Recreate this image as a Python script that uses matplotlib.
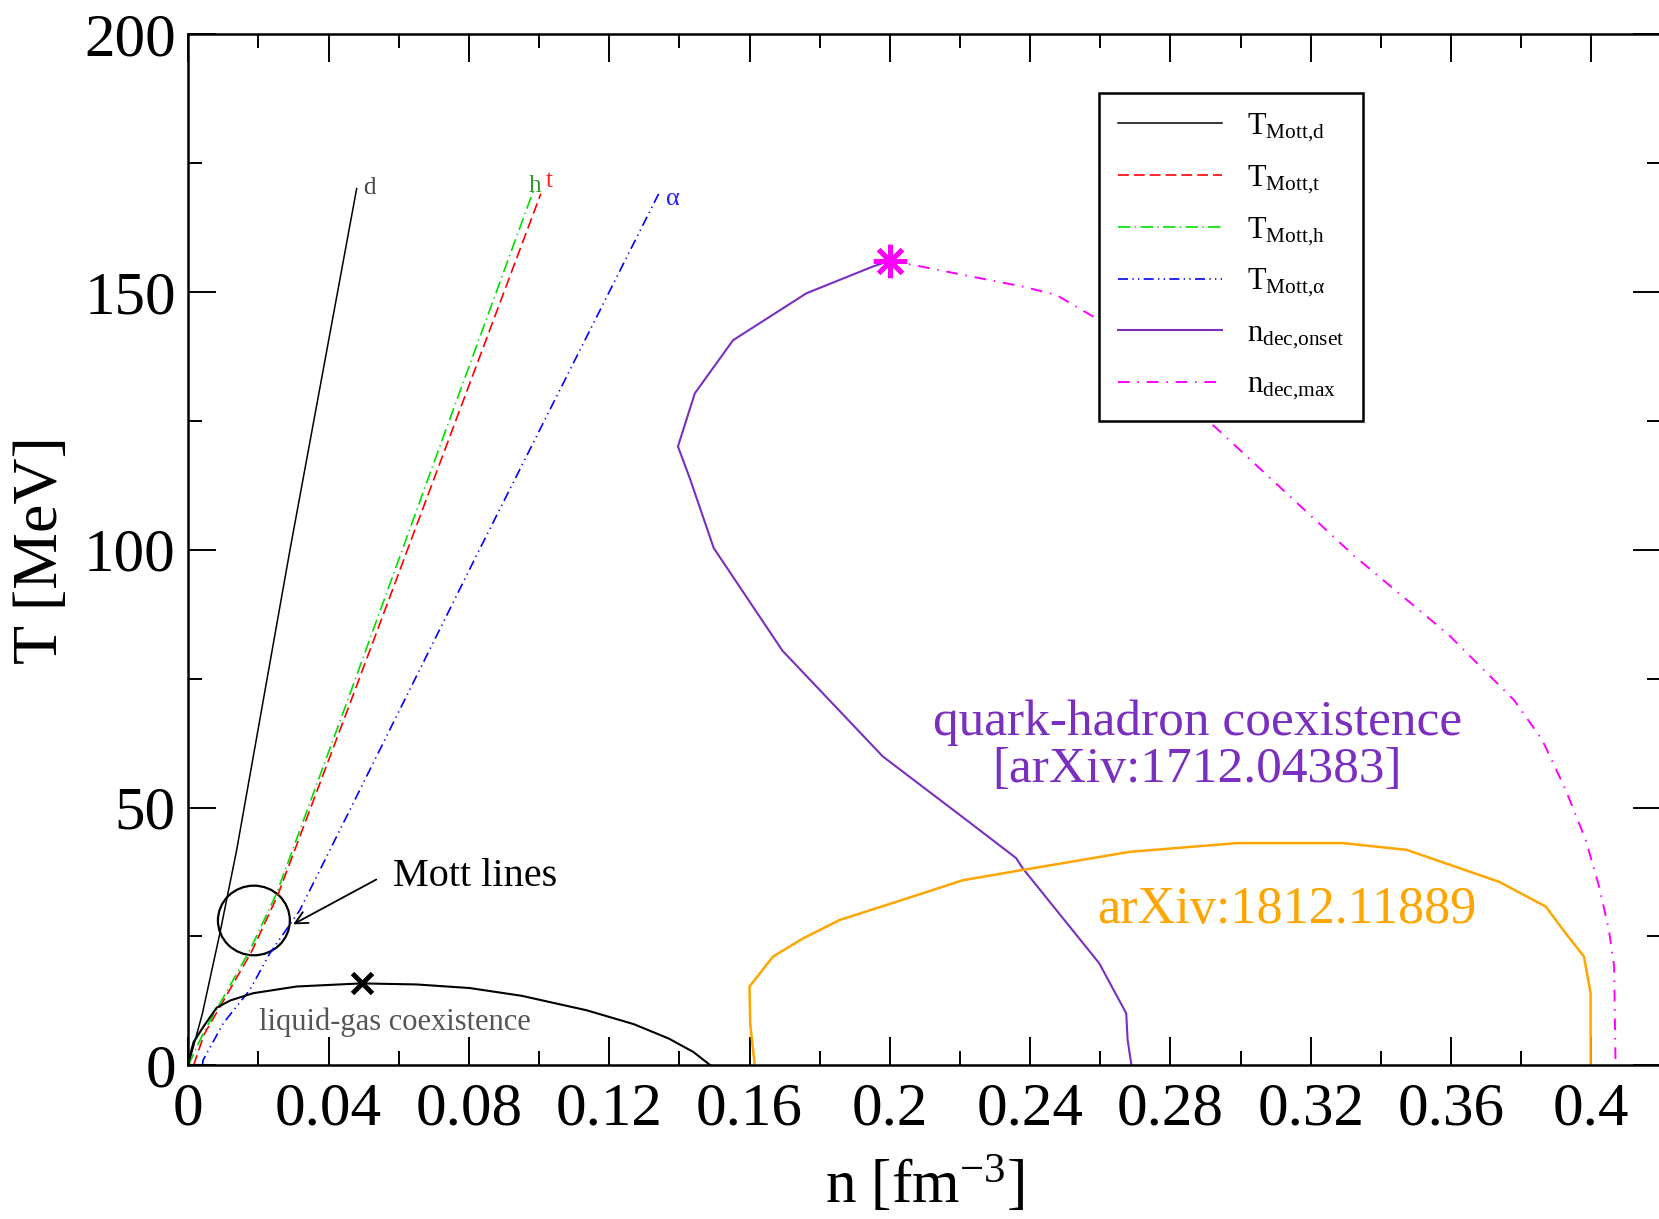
import numpy as np
import matplotlib
matplotlib.use("Agg")
import matplotlib.pyplot as plt
from matplotlib.patches import Ellipse

plt.rcParams['font.family'] = ['Liberation Serif', 'DejaVu Serif']
plt.rcParams['mathtext.fontset'] = 'custom'
plt.rcParams['mathtext.rm'] = 'Liberation Serif'
plt.rcParams['mathtext.it'] = 'Liberation Serif:italic'

# Mott lines (n in fm^-3, T in MeV)
n_d = [0.0, 0.004, 0.009, 0.0138, 0.029, 0.048]
T_d = [0.0, 10.0, 25.6, 41.8, 100.0, 170.0]

n_t = [0.0015, 0.0045, 0.018, 0.0255, 0.046, 0.0735, 0.1005]
T_t = [0.0, 6.0, 22.0, 33.0, 70.0, 120.0, 169.0]

n_h = [0.0, 0.0043, 0.0176, 0.0252, 0.045, 0.0717, 0.0986]
T_h = [0.0, 6.3, 22.4, 33.4, 70.0, 120.0, 170.0]

n_a = [0.004, 0.0042, 0.010, 0.0175, 0.0233, 0.0318, 0.0404, 0.083, 0.1341]
T_a = [0.0, 1.0, 8.2, 14.6, 21.8, 30.1, 41.8, 100.0, 169.0]

# quark-hadron coexistence
n_onset = [0.2, 0.1952, 0.1762, 0.1553, 0.1444, 0.1396, 0.143, 0.1498, 0.1694,
           0.198, 0.2218, 0.236, 0.2379, 0.2597, 0.2674, 0.2678, 0.2689]
T_onset = [156.0, 154.9, 149.7, 140.6, 130.3, 120.0, 113.8, 100.3, 80.4,
           59.9, 47.6, 40.2, 38.2, 19.8, 10.1, 4.9, 0.0]

n_max = [0.2, 0.2066, 0.2237, 0.2379, 0.2474, 0.2597, 0.29, 0.3322, 0.3593,
         0.378, 0.386, 0.3927, 0.3984, 0.4022, 0.405, 0.4065, 0.4069]
T_max = [156.0, 155.2, 152.9, 151.0, 149.4, 144.5, 125.5, 98.9, 83.5,
         70.8, 63.1, 53.4, 43.7, 34.7, 26.3, 19.2, 0.0]

# liquid-gas coexistence
n_lg = [0.0, 0.0005, 0.0015, 0.0043, 0.0081, 0.012, 0.0185, 0.0309, 0.0494,
        0.065, 0.0802, 0.095, 0.1135, 0.127, 0.137, 0.144, 0.1489]
T_lg = [0.0, 2.0, 4.5, 7.5, 11.2, 12.6, 14.0, 15.3, 15.9,
        15.7, 15.0, 13.5, 10.7, 8.0, 5.2, 2.6, 0.0]

# arXiv:1812.11889
n_or = [0.1615, 0.1602, 0.16, 0.1667, 0.1752, 0.1857, 0.2018, 0.2208, 0.2379,
        0.2683, 0.299, 0.3292, 0.3473, 0.3737, 0.387, 0.3927, 0.3979, 0.3998, 0.3998]
T_or = [0.0, 8.0, 15.3, 21.1, 24.6, 28.2, 31.7, 35.9, 37.9,
        41.4, 43.1, 43.1, 41.8, 35.6, 30.8, 25.6, 21.1, 14.0, 0.0]

crit_lg = (0.0494, 15.9)
crit_qh = (0.2, 156.0)

fig = plt.figure(figsize=(16.59, 12.19), dpi=100)
ax = fig.add_axes([0.1135, 0.126, 0.888, 0.8462])

ax.plot(n_d, T_d, color='black', lw=1.1, label=r'T$_{\mathrm{Mott{,}d}}$')
ax.plot(n_t, T_t, color='#ff0000', lw=1.2, linestyle=(0, (6.5, 3.0)),
        label=r'T$_{\mathrm{Mott{,}t}}$')
ax.plot(n_h, T_h, color='#00e000', lw=1.2, linestyle=(0, (7.5, 2.6, 0.8, 2.6)),
        label=r'T$_{\mathrm{Mott{,}h}}$')
ax.plot(n_a, T_a, color='#0000ff', lw=1.2,
        linestyle=(0, (6.0, 2.6, 0.8, 2.6, 0.8, 2.6)),
        label=r'T$_{\mathrm{Mott{,}\alpha}}$')
ax.plot(n_onset, T_onset, color='#7b2fc0', lw=1.5, label=r'n$_{\mathrm{dec{,}onset}}$')
ax.plot(n_max, T_max, color='#ff00ff', lw=1.4, linestyle=(0, (6.0, 4.0, 0.8, 4.0)),
        label=r'n$_{\mathrm{dec{,}max}}$')

ax.plot(n_lg, T_lg, color='black', lw=1.5)
ax.plot(n_or, T_or, color='#ffa500', lw=1.8)

ax.plot(*crit_lg, marker='x', color='black', markersize=15, mew=3.5)
ax.plot(*crit_qh, marker=(8, 2, 0), color='#ff00ff', markersize=24, mew=3.5)

ax.add_patch(Ellipse((0.0187, 28.1), 0.0205, 13.5, fill=False, color='black', lw=1.6))
ax.annotate('', xy=(0.0292, 27.1), xytext=(0.0543, 36.3),
            arrowprops=dict(arrowstyle='->', color='black', lw=1.3, mutation_scale=22))

ax.text(0.0585, 36.7, 'Mott lines', fontsize=29, va='center', ha='left')
ax.text(0.0588, 8.4, 'liquid-gas coexistence', fontsize=22, color='#555555',
        va='center', ha='center')
ax.text(0.0498, 170.1, 'd', fontsize=18, color='#444444', va='center')
ax.text(0.0971, 170.5, 'h', fontsize=18, color='#2e9a2e', va='center')
ax.text(0.1020, 171.5, 't', fontsize=18, color='#ff2020', va='center')
ax.text(0.1362, 168.0, 'α', fontsize=19, color='#2020ff', va='center')
ax.text(0.2877, 61.9, 'quark-hadron coexistence\n[arXiv:1712.04383]', fontsize=37,
        color='#7b2fc0', ha='center', va='center', linespacing=1.0)
ax.text(0.3133, 30.2, 'arXiv:1812.11889', fontsize=37.5, color='#ffa500',
        ha='center', va='center')

ax.set_xlim(0, 0.42)
ax.set_ylim(0, 200)
ax.set_xticks(np.arange(0, 0.401, 0.04))
ax.set_xticklabels(['0', '0.04', '0.08', '0.12', '0.16', '0.2', '0.24',
                    '0.28', '0.32', '0.36', '0.4'])
ax.set_xticks(np.arange(0.02, 0.42, 0.04), minor=True)
ax.set_yticks(np.arange(0, 201, 50))
ax.set_yticks(np.arange(25, 200, 50), minor=True)
ax.tick_params(which='both', direction='in', top=True, right=True, width=1.4,
               labelsize=44)
ax.tick_params(which='major', length=20)
ax.tick_params(which='minor', length=10)
ax.tick_params(axis='x', which='major', pad=12)
ax.tick_params(axis='y', which='major', pad=9)
for s in ax.spines.values():
    s.set_linewidth(1.8)

ax.set_xlabel(r'n [fm$^{-3}$]', fontsize=44, va='center')
ax.xaxis.set_label_coords(0.5, -0.117)
ax.set_ylabel('T [MeV]', fontsize=46, va='center')
ax.yaxis.set_label_coords(-0.0993, 0.5)

leg = ax.legend(loc='upper left', bbox_to_anchor=(0.6185, 0.9427), fontsize=22,
                handlelength=3.4, handletextpad=0.8, labelspacing=0.64,
                borderpad=0.62, borderaxespad=0, fancybox=False, framealpha=1)
leg.get_frame().set_edgecolor('black')
leg.get_frame().set_linewidth(1.8)

fig.savefig('out.png', dpi=100)
